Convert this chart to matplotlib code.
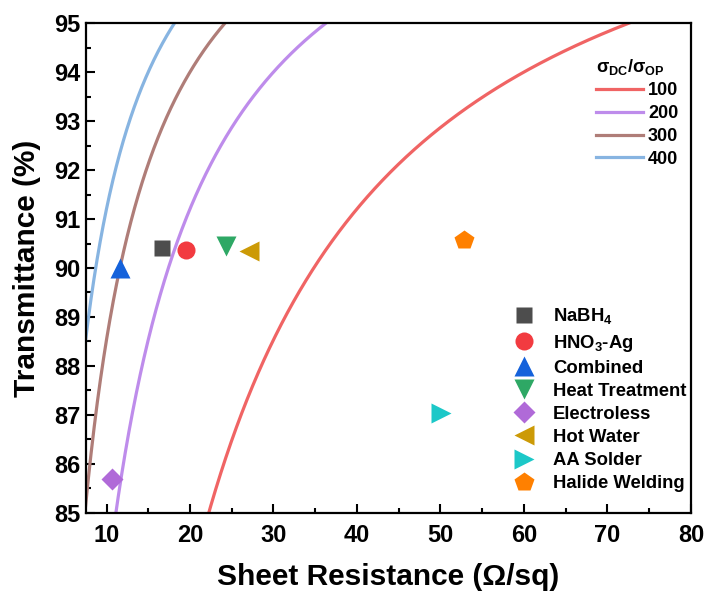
import numpy as np
import matplotlib.pyplot as plt
from matplotlib.ticker import MultipleLocator

plt.rcParams['font.family'] = ['Liberation Sans', 'DejaVu Sans']
plt.rcParams['font.weight'] = 'bold'
plt.rcParams['mathtext.fontset'] = 'custom'
plt.rcParams['mathtext.rm'] = 'Liberation Sans:bold'
plt.rcParams['mathtext.bf'] = 'Liberation Sans:bold'
plt.rcParams['mathtext.it'] = 'Liberation Sans:bold'
plt.rcParams['mathtext.default'] = 'rm'

# figure of merit sigma_DC / sigma_OP
fom_values = [100, 200, 300, 400]
fom_colors = ['#F06464', '#BE8CEB', '#AF7D78', '#87B4E1']

# measured samples
labels = ['NaBH$_4$', 'HNO$_3$-Ag', 'Combined', 'Heat Treatment',
          'Electroless', 'Hot Water', 'AA Solder', 'Halide Welding']
sheet_res = [16.7, 19.5, 11.6, 24.3, 10.65, 27.1, 50.1, 52.8]
transmit = [90.41, 90.36, 90.0, 90.45, 85.68, 90.34, 87.04, 90.57]
markers = ['s', 'o', '^', 'v', 'D', '<', '>', 'p']
colors = ['#4D4D4D', '#F23B40', '#1562DB', '#2EA865', '#B06AD8',
          '#CC9A06', '#1CC8C8', '#FF8000']
sizes = [12, 13, 14, 14, 11, 14, 14, 15]

Z0 = 376.73

fig = plt.figure(figsize=(7.10, 5.98), dpi=100)
ax = fig.add_axes([0.1206, 0.1427, 0.9732 - 0.1206, 0.961 - 0.1427])

rs = np.linspace(5, 80, 2000)
line_handles = []
for fom, c in zip(fom_values, fom_colors):
    t = 100 * (1 + Z0 / (2 * rs * fom)) ** -2
    h, = ax.plot(rs, t, color=c, lw=2.3, label=str(fom))
    line_handles.append(h)

pt_handles = []
for x, y, m, c, s, lab in zip(sheet_res, transmit, markers, colors, sizes, labels):
    h, = ax.plot(x, y, ls='none', marker=m, color=c, ms=s, mec='none', label=lab)
    pt_handles.append(h)

ax.set_xlim(7.5, 80)
ax.set_ylim(85, 95)
ax.xaxis.set_major_locator(MultipleLocator(10))
ax.xaxis.set_minor_locator(MultipleLocator(5))
ax.yaxis.set_major_locator(MultipleLocator(1))
ax.yaxis.set_minor_locator(MultipleLocator(0.5))
ax.tick_params(which='both', direction='in', width=1.5, labelsize=17)
ax.tick_params(which='major', length=6.5)
ax.tick_params(which='minor', length=3.5)
ax.tick_params(axis='x', pad=8)
for sp in ax.spines.values():
    sp.set_linewidth(1.6)

ax.set_xlabel('Sheet Resistance (Ω/sq)', fontsize=21.5, fontweight='bold', labelpad=12)
ax.set_ylabel('Transmittance (%)', fontsize=21.5, fontweight='bold', labelpad=10)

leg1 = ax.legend(handles=line_handles, loc='upper right', frameon=False,
                 title=r'σ$_{DC}$/σ$_{OP}$', fontsize=13, title_fontsize=13,
                 handlelength=2.6, handletextpad=0.3, labelspacing=0.32,
                 bbox_to_anchor=(1.006, 0.965))
leg1._legend_box.align = 'left'
ax.add_artist(leg1)

ax.legend(handles=pt_handles, loc='lower right', frameon=False, fontsize=13.3,
          handletextpad=0.6, labelspacing=0.33, bbox_to_anchor=(1.02, 0.008))

fig.savefig('out.png', dpi=100)
